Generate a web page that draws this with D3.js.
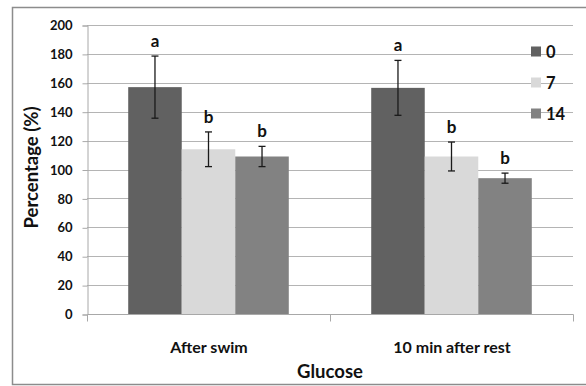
<!DOCTYPE html>
<html>
<head>
<meta charset="utf-8">
<script src="https://cdn.jsdelivr.net/npm/d3@7.9.0/dist/d3.min.js"></script>
<style>
  body { margin: 0; background: #fff; }
  svg { font-family: Lato, "Open Sans", sans-serif; font-weight: bold; }
</style>
</head>
<body>
<svg id="chart" width="586" height="386"></svg>
<script>
// data
const categories = ["After swim", "10 min after rest"];
const seriesNames = ["0", "7", "14"];
const values = [
  [157, 114, 109],   // After swim
  [156.5, 109, 94]   // 10 min after rest
];
const errors = [
  [21.5, 12, 7],
  [19, 10, 3.5]
];
const letters = [
  ["a", "b", "b"],
  ["a", "b", "b"]
];
const yTicks = [0, 20, 40, 60, 80, 100, 120, 140, 160, 180, 200];
const colors = ["#616161", "#d9d9d9", "#828282"];

const svg = d3.select("#chart");

// chart frame
svg.append("rect")
  .attr("x", 12.5).attr("y", 7.5)
  .attr("width", 600).attr("height", 377)
  .attr("fill", "#fff").attr("stroke", "#8c8c8c").attr("stroke-width", 1.5);

const plotLeft = 87, plotRight = 573, plotTop = 25, plotBottom = 314;

const x = d3.scaleBand().domain(categories).range([plotLeft, plotRight]).paddingInner(0).paddingOuter(0);
const xSub = d3.scaleBand().domain(seriesNames).range([0, x.bandwidth()]).paddingInner(0).paddingOuter(0.77);
const y = d3.scaleLinear().domain([0, 200]).range([plotBottom, plotTop]);

// gridlines
svg.append("g")
  .selectAll("line")
  .data(yTicks.filter(d => d > 0))
  .join("line")
  .attr("x1", plotLeft).attr("x2", plotRight)
  .attr("y1", d => Math.round(y(d)) + 0.5).attr("y2", d => Math.round(y(d)) + 0.5)
  .attr("stroke", "#b4b4b4");

// y axis
const yAxis = svg.append("g")
  .attr("transform", `translate(${plotLeft + 0.5},0.5)`)
  .call(d3.axisLeft(y).tickValues(yTicks).tickSize(5).tickPadding(10));
yAxis.select(".domain").attr("stroke", "#a8a8a8");
yAxis.selectAll(".tick line").attr("stroke", "#a8a8a8");
yAxis.selectAll(".tick text").attr("font-size", 13).attr("fill", "#111")
  .attr("font-family", "Lato, sans-serif").attr("font-weight", "bold");

// bars
const barData = (c, ci) => seriesNames.map((s, si) => ({ s, si, v: values[ci][si], e: errors[ci][si], l: letters[ci][si] }));

const groups = svg.append("g")
  .selectAll("g")
  .data(categories)
  .join("g")
  .attr("transform", d => `translate(${x(d)},0)`);

groups.selectAll("rect")
  .data(barData)
  .join("rect")
  .attr("x", d => xSub(d.s))
  .attr("width", xSub.bandwidth())
  .attr("y", d => y(d.v))
  .attr("height", d => y(0) - y(d.v))
  .attr("fill", d => colors[d.si]);

// error bars
const err = groups.selectAll("g.err")
  .data(barData)
  .join("g")
  .attr("class", "err")
  .attr("transform", d => `translate(${xSub(d.s) + xSub.bandwidth() / 2},0)`)
  .attr("stroke", "#1a1a1a").attr("stroke-width", 1.3);
err.append("line").attr("x1", 0).attr("x2", 0)
  .attr("y1", d => y(d.v + d.e)).attr("y2", d => y(d.v - d.e));
err.append("line").attr("x1", -3.5).attr("x2", 3.5)
  .attr("y1", d => y(d.v + d.e)).attr("y2", d => y(d.v + d.e));
err.append("line").attr("x1", -3.5).attr("x2", 3.5)
  .attr("y1", d => y(d.v - d.e)).attr("y2", d => y(d.v - d.e));

// significance letters
err.append("text")
  .attr("stroke", "none").attr("fill", "#111")
  .attr("text-anchor", "middle")
  .attr("font-size", 17)
  .attr("y", d => y(d.v + d.e) - 9)
  .text(d => d.l);

// x axis
const xAxis = svg.append("g")
  .attr("transform", `translate(0.5,${plotBottom + 0.5})`);
xAxis.append("line").attr("x1", plotLeft).attr("x2", plotRight).attr("stroke", "#a8a8a8");
xAxis.selectAll("line.tick")
  .data([plotLeft, x(categories[1]), plotRight])
  .join("line")
  .attr("class", "tick")
  .attr("x1", d => d).attr("x2", d => d)
  .attr("y1", 0).attr("y2", 7)
  .attr("stroke", "#a8a8a8");
xAxis.selectAll("text")
  .data(categories)
  .join("text")
  .attr("x", d => x(d) + x.bandwidth() / 2)
  .attr("y", 38)
  .attr("text-anchor", "middle")
  .attr("font-size", 16)
  .attr("fill", "#111")
  .text(d => d);

// axis titles
svg.append("text")
  .attr("x", (plotLeft + plotRight) / 2).attr("y", 378)
  .attr("text-anchor", "middle")
  .attr("font-size", 18.5).attr("fill", "#111")
  .text("Glucose");

svg.append("text")
  .attr("transform", `translate(38,${(plotTop + plotBottom) / 2 - 2}) rotate(-90)`)
  .attr("text-anchor", "middle")
  .attr("font-size", 18.5).attr("fill", "#111")
  .text("Percentage (%)");

// legend
const legend = svg.append("g")
  .selectAll("g")
  .data(seriesNames)
  .join("g")
  .attr("transform", (d, i) => `translate(531,${51.5 + i * 31})`);
legend.append("rect")
  .attr("x", 0).attr("y", -5).attr("width", 10).attr("height", 10)
  .attr("fill", (d, i) => colors[i]);
legend.append("text")
  .attr("x", 15).attr("y", 6)
  .attr("font-size", 16.5).attr("fill", "#111")
  .text(d => d);
</script>
</body>
</html>
